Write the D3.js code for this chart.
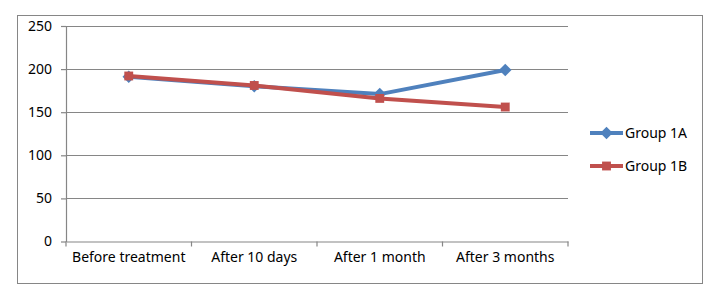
<!DOCTYPE html>
<html>
<head>
<meta charset="utf-8">
<script src="https://cdn.jsdelivr.net/npm/d3@7"></script>
<style>
  body { margin: 0; background: #fff; }
  text { font-family: "Noto Sans", "Open Sans", sans-serif; font-size: 14px; fill: #000; }
</style>
</head>
<body>
<div id="chart"></div>
<script>
const categories = ['Before treatment', 'After 10 days', 'After 1 month', 'After 3 months']
const group1A = [191, 180, 171, 199]
const group1B = [192, 181, 166, 156]
const yTicks = [0, 50, 100, 150, 200, 250]

const series = [
  { name: 'Group 1A', values: group1A, color: '#4F81BD', marker: 'diamond' },
  { name: 'Group 1B', values: group1B, color: '#C0504D', marker: 'square' }
]

const W = 721
const H = 299
const margin = { t: 26, l: 66, r: 153, b: 57.5 }
const innerWidth = W - margin.l - margin.r
const innerHeight = H - margin.t - margin.b

const svg = d3.select('#chart')
  .append('svg')
  .attr('width', W)
  .attr('height', H)

// outer frame
svg.append('rect')
  .attr('x', 17.5)
  .attr('y', 15.5)
  .attr('width', 685)
  .attr('height', 268)
  .attr('fill', 'none')
  .attr('stroke', '#868686')
  .attr('stroke-width', 1)

const scaleX = d3.scaleBand().domain(categories).range([0, innerWidth])
const scaleY = d3.scaleLinear().domain([0, 250]).range([innerHeight, 0])

const plot = svg.append('g')
  .attr('transform', `translate(${margin.l}, ${margin.t})`)

// gridlines
plot.append('g')
  .selectAll('line')
  .data(yTicks.filter(d => d > 0))
  .enter()
  .append('line')
  .attr('x1', 0)
  .attr('x2', innerWidth)
  .attr('y1', d => Math.round(scaleY(d)) + 0.5)
  .attr('y2', d => Math.round(scaleY(d)) + 0.5)
  .attr('stroke', '#868686')
  .attr('stroke-width', 1.2)

const axisY = d3.axisLeft(scaleY)
  .tickValues(yTicks)
  .tickSizeOuter(0)
  .tickSizeInner(5)
  .tickPadding(9)

const gy = plot.append('g').call(axisY)
gy.selectAll('line, path').attr('stroke', '#868686').attr('stroke-width', 1.2)
gy.selectAll('text').style('font-size', '14px')

const axisX = d3.axisBottom(scaleX)
  .tickSizeInner(0)
  .tickSizeOuter(0)
  .tickPadding(11)

const gx = plot.append('g')
  .attr('transform', `translate(0, ${innerHeight})`)
  .call(axisX)
gx.select('path').attr('stroke', '#868686').attr('stroke-width', 1.2)
gx.selectAll('text').style('font-size', '14px')

// category boundary ticks
gx.selectAll('.boundary')
  .data(d3.range(categories.length + 1))
  .enter()
  .append('line')
  .attr('x1', i => i * scaleX.step())
  .attr('x2', i => i * scaleX.step())
  .attr('y1', 0)
  .attr('y2', 5)
  .attr('stroke', '#868686')
  .attr('stroke-width', 1.2)

const line = d3.line()
  .x((d, i) => scaleX(categories[i]) + scaleX.bandwidth() / 2)
  .y(d => scaleY(d))

const diamond = d3.symbol().type(d3.symbolDiamond2).size(100)
const square = d3.symbol().type(d3.symbolSquare2).size(100)

series.forEach(s => {
  plot.append('path')
    .datum(s.values)
    .attr('d', line)
    .attr('fill', 'none')
    .attr('stroke', s.color)
    .attr('stroke-width', 4)
    .attr('stroke-linejoin', 'round')

  plot.selectAll('.m-' + s.marker)
    .data(s.values)
    .enter()
    .append('path')
    .attr('transform', (d, i) => `translate(${scaleX(categories[i]) + scaleX.bandwidth() / 2}, ${scaleY(d)})`)
    .attr('d', s.marker === 'diamond' ? diamond : square)
    .attr('fill', s.color)
})

// legend
const legend = svg.append('g')
  .selectAll('g')
  .data(series)
  .enter()
  .append('g')
  .attr('transform', (d, i) => `translate(590, ${133 + i * 33})`)

legend.append('line')
  .attr('x1', 0)
  .attr('x2', 33)
  .attr('stroke', d => d.color)
  .attr('stroke-width', 4)

legend.append('path')
  .attr('transform', 'translate(16.5, 0)')
  .attr('d', d => d.marker === 'diamond' ? diamond() : square())
  .attr('fill', d => d.color)

legend.append('text')
  .attr('x', 35)
  .attr('dy', '0.35em')
  .text(d => d.name)
</script>
</body>
</html>
